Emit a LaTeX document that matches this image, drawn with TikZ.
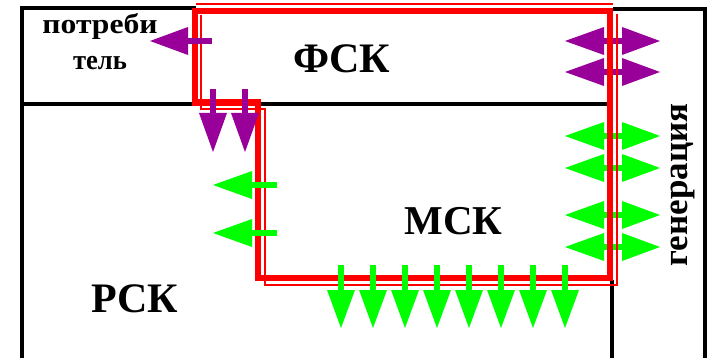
\documentclass[tikz,border=0pt]{standalone}
\usepackage{fontspec}
\setmainfont{Liberation Serif}
\definecolor{purp}{RGB}{153,0,153}
\definecolor{grn}{RGB}{0,255,0}
\definecolor{rd}{RGB}{255,0,0}
\newcommand\arrdown[2]{% x, color
  \fill[#2] ({#1-3},265) rectangle ({#1+3},291);
  \fill[#2] ({#1-14},290) -- ({#1+14},290) -- (#1,328) -- cycle;}
\newcommand\dblarr[2]{% y, color
  \fill[#2] (600,{#1-3}) rectangle (626,{#1+3});
  \fill[#2] (604,{#1-14}) -- (604,{#1+14}) -- (565,#1) -- cycle;
  \fill[#2] (622,{#1-14}) -- (622,{#1+14}) -- (660,#1) -- cycle;}
\newcommand\arrleft[2]{% y, color
  \fill[#2] (250,{#1-3}) rectangle (277,{#1+3});
  \fill[#2] (252,{#1-14}) -- (252,{#1+14}) -- (213,#1) -- cycle;}
\tikzset{
  blk/.style={line width=4.5pt, black},
  thickred/.style={line width=6.5pt, rd},
  thinred/.style={line width=2pt, rd},
  lbl/.style={inner sep=0pt, anchor=base},
}
\begin{document}
\begin{tikzpicture}[x=1pt,y=-1pt]
\useasboundingbox (0,0) rectangle (709,358);
\clip (0,0) rectangle (709,358);
% black frame lines
\draw[blk] (22,358) -- (22,8) -- (196,8);
\draw[blk] (613,9) -- (705,9) -- (705,358);
\draw[blk] (22,104) -- (612,104);
\draw[blk] (612,280) -- (612,358);
% right double arrows (under red)
\dblarr{41}{purp}
\dblarr{72}{purp}
\dblarr{136}{grn}
\dblarr{168}{grn}
\dblarr{215}{grn}
\dblarr{247}{grn}
% red double boundary
\draw[thickred, line join=miter] (195,11) -- (610,11) -- (610,278) -- (258,278) -- (258,102.5) -- (195,102.5) -- cycle;
\draw[thinred] (196,4) -- (613,4);
\draw[thinred] (617,14) -- (617,284.5) -- (265,284.5) -- (265,109) -- (201,109) -- (201,15);
% purple arrows
\fill[purp] (186,38) rectangle (212,44);
\fill[purp] (188,27) -- (188,55) -- (150,41) -- cycle;
\fill[purp] (210,89) rectangle (216,115);
\fill[purp] (199,113) -- (227,113) -- (213,152) -- cycle;
\fill[purp] (242,89) rectangle (248,115);
\fill[purp] (231,113) -- (259,113) -- (245,152) -- cycle;
% green arrows
\arrleft{185}{grn}
\arrleft{233}{grn}
\foreach \xx in {341,373,405,437,469,501,533,565} {\arrdown{\xx}{grn}}
% labels
\node[lbl, font=\bfseries\fontsize{28}{28}\selectfont, xscale=1.13] (p1) at (100,34) {потреби};
\node[lbl, font=\bfseries\fontsize{28}{28}\selectfont, xscale=0.95] (p2) at (100,70) {тель};
\node[lbl, font=\bfseries\fontsize{42}{42}\selectfont] (fsk) at (341.5,73) {ФСК};
\node[lbl, font=\bfseries\fontsize{41}{41}\selectfont] (msk) at (453.5,234) {МСК};
\node[lbl, font=\bfseries\fontsize{42}{42}\selectfont] (rsk) at (134.5,312) {РСК};
\node[lbl, font=\bfseries\fontsize{35}{35}\selectfont, rotate=90] (gen) at (687,185) {генерация};
\end{tikzpicture}
\end{document}
